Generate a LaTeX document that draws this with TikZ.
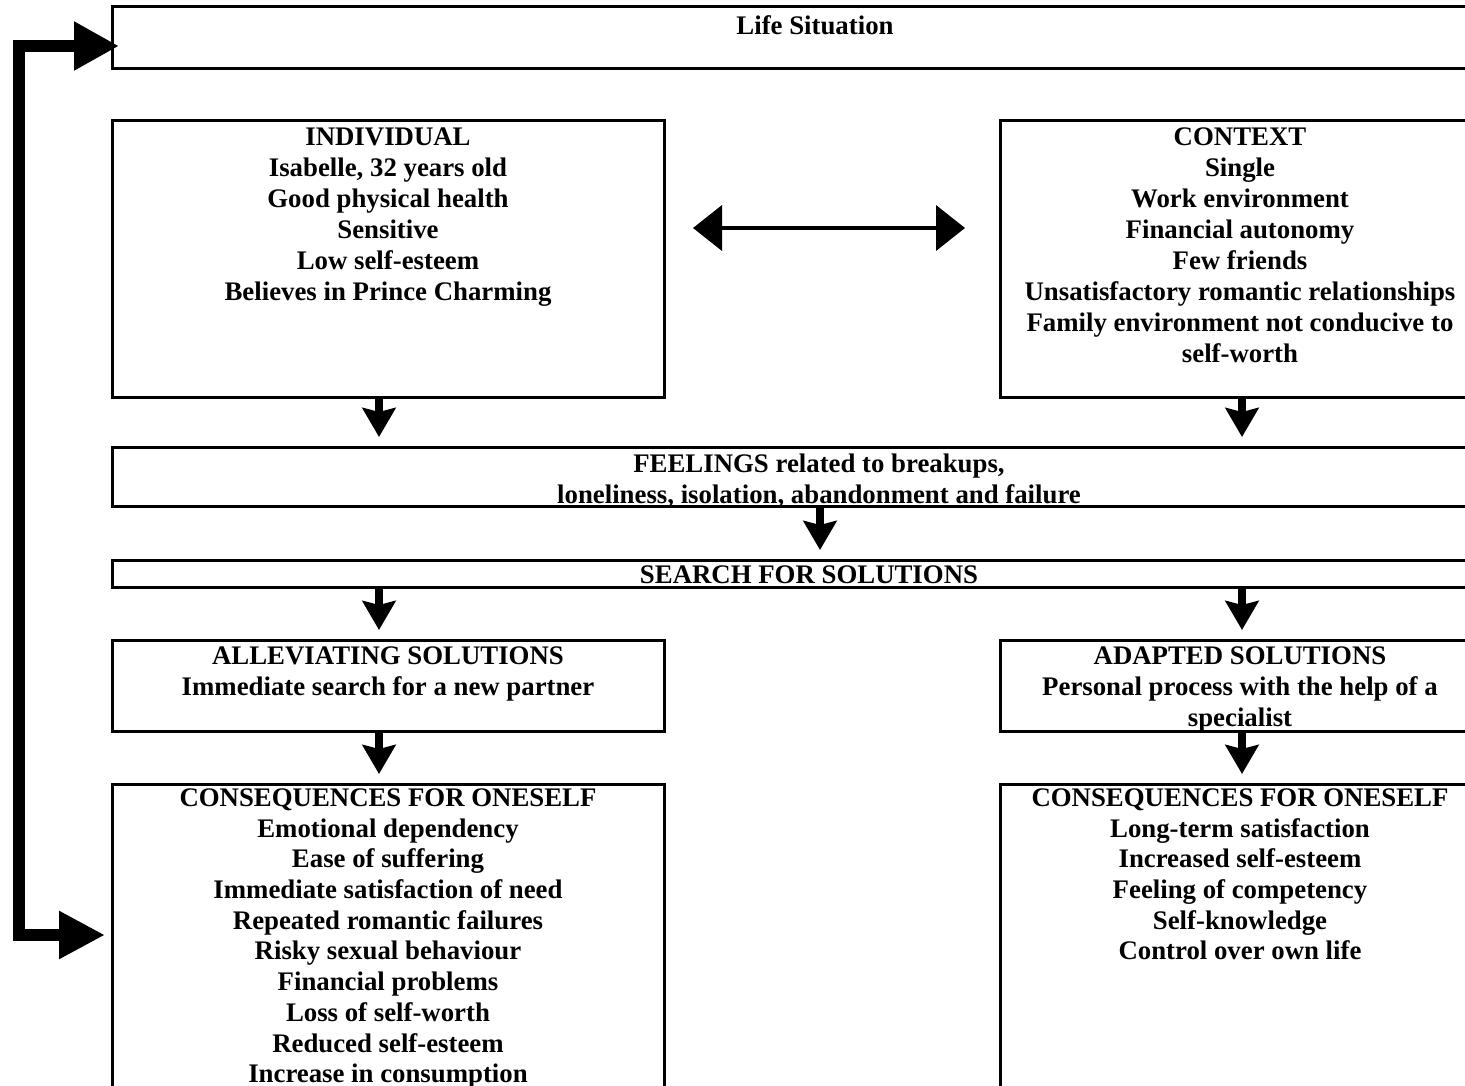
\documentclass[tikz,border=0pt]{standalone}
\usepackage{fontspec}
\setmainfont{Liberation Serif}
\usetikzlibrary{arrows.meta,calc}

\begin{document}
\begin{tikzpicture}[x=1pt,y=-1pt,
  box/.style={draw, line width=3pt, rectangle, inner sep=0pt, outer sep=0pt},
  txt/.style={font=\bfseries\fontsize{26.8}{31}\selectfont, align=center, inner sep=0pt, anchor=north},
  txtlong/.style={txt, font=\bfseries\fontsize{26.8}{30.7}\selectfont},
  downarr/.style={line width=8pt, -{Stealth[length=29pt,width=33pt,inset=4pt]}, shorten <=2pt, shorten >=10pt},
  twoway/.style={line width=4pt, {Triangle[length=29pt,width=45pt]}-{Triangle[length=29pt,width=45pt]}},
  loopback/.style={line width=12pt, line join=miter, {Triangle[length=45pt,width=46pt]}-{Triangle[length=46pt,width=45pt]}}
]
\useasboundingbox (0,0) rectangle (1465,1086);
\clip (0,0) rectangle (1465,1086);

% boxes
\node[box, minimum width=1406pt, minimum height=62pt]  (life)    at (815,38)    {};
\node[box, minimum width=552pt,  minimum height=276pt] (indiv)   at (388,259)   {};
\node[box, minimum width=480pt,  minimum height=276pt] (context) at (1240,259)  {};
\node[box, minimum width=1414pt, minimum height=59pt]  (feel)    at (819,476.5) {};
\node[box, minimum width=1394pt, minimum height=27pt]  (search)  at (809,573.5) {};
\node[box, minimum width=552pt,  minimum height=91pt]  (allev)   at (388,685.5) {};
\node[box, minimum width=480pt,  minimum height=91pt]  (adapt)   at (1240,685.5){};
\node[box, minimum width=552pt,  minimum height=340pt] (conl)    at (388,954)   {};
\node[box, minimum width=480pt,  minimum height=340pt] (conr)    at (1240,954)  {};

% texts
\node[txt] (lifetxt) at (815,15.5) {Life Situation};
\node[txt] (indivtxt) at (388,127.5) {INDIVIDUAL\\Isabelle, 32 years old\\Good physical health\\Sensitive\\Low self-esteem\\Believes in Prince Charming};
\node[txt] (contexttxt) at (1240,127.5) {CONTEXT\\Single\\Work environment\\Financial autonomy\\Few friends\\Unsatisfactory romantic relationships\\Family environment not conducive to\\self-worth};
\node[txt] (feeltxt) at (819,453.5) {FEELINGS related to breakups,\\loneliness, isolation, abandonment and failure};
\node[txt] (searchtxt) at (809,565.5) {SEARCH FOR SOLUTIONS};
\node[txt] (allevtxt) at (388,646.5) {ALLEVIATING SOLUTIONS\\Immediate search for a new partner};
\node[txt] (adapttxt) at (1240,646.5) {ADAPTED SOLUTIONS\\Personal process with the help of a\\specialist};
\node[txtlong] (conltxt) at (388,788.5) {CONSEQUENCES FOR ONESELF\\Emotional dependency\\Ease of suffering\\Immediate satisfaction of need\\Repeated romantic failures\\Risky sexual behaviour\\Financial problems\\Loss of self-worth\\Reduced self-esteem\\Increase in consumption};
\node[txtlong] (conrtxt) at (1240,788.5) {CONSEQUENCES FOR ONESELF\\Long-term satisfaction\\Increased self-esteem\\Feeling of competency\\Self-knowledge\\Control over own life};

% column guides for the short arrows
\coordinate (colL) at (379,0);
\coordinate (colM) at (820,0);
\coordinate (colR) at (1242,0);
\coordinate (mid) at (830,228);
\coordinate (looptop) at (19,46);
\coordinate (loopbot) at (19,935);

% short downward arrows
\draw[downarr] (indiv.south -| colL) -- (feel.north -| colL);
\draw[downarr] (context.south -| colR) -- (feel.north -| colR);
\draw[downarr] (feel.south -| colM) -- (search.north -| colM);
\draw[downarr] (search.south -| colL) -- (allev.north -| colL);
\draw[downarr] (search.south -| colR) -- (adapt.north -| colR);
\draw[downarr] (allev.south -| colL) -- (conl.north -| colL);
\draw[downarr] (adapt.south -| colR) -- (conr.north -| colR);

% two-way arrow between individual and context
\draw[twoway, shorten <=29pt, shorten >=35pt] (indiv.east |- mid) -- (context.west |- mid);

% feedback loop on the left
\draw[loopback, shorten <=-7pt, shorten >=7pt]
  (life.west |- looptop) -- (looptop) -- (loopbot) -- (conl.west |- loopbot);
\end{tikzpicture}
\end{document}
